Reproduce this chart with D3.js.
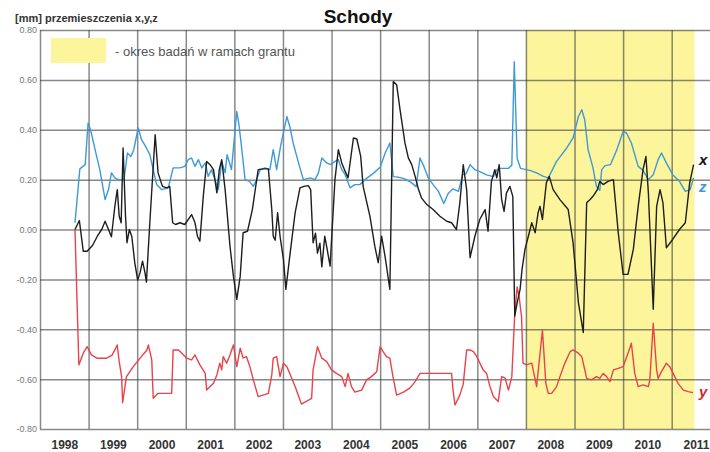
<!DOCTYPE html>
<html>
<head>
<meta charset="utf-8">
<script src="https://cdn.jsdelivr.net/npm/d3@7"></script>
<style>
body { margin: 0; background: #fff; }
svg { display: block; font-family: Arial, "Liberation Sans", sans-serif; }
</style>
</head>
<body>
<svg width="710" height="452"></svg>
<script>
// years on the time axis, value ticks [mm]
const years = [1998, 1999, 2000, 2001, 2002, 2003, 2004, 2005, 2006, 2007, 2008, 2009, 2010, 2011];
const yTicks = [-0.8, -0.6, -0.4, -0.2, 0, 0.2, 0.4, 0.6, 0.8];
const grantPeriod = [2008, 2011.47];

// [decimal year, displacement mm]
const xData = [[1998.72,0.0],[1998.81,0.036],[1998.89,-0.087],[1998.97,-0.087],[1999.08,-0.064],[1999.18,-0.027],[1999.27,0.0],[1999.34,0.033],[1999.41,0.0],[1999.47,-0.029],[1999.54,0.093],[1999.59,0.16],[1999.63,0.053],[1999.67,0.027],[1999.71,0.327],[1999.76,0.053],[1999.79,-0.053],[1999.84,0.0],[1999.89,-0.029],[1999.95,-0.133],[2000.01,-0.203],[2000.06,-0.173],[2000.11,-0.127],[2000.16,-0.173],[2000.19,-0.211],[2000.26,0.027],[2000.37,0.38],[2000.43,0.227],[2000.52,0.173],[2000.61,0.167],[2000.67,0.173],[2000.73,0.027],[2000.79,0.02],[2000.88,0.027],[2000.98,0.02],[2001.12,0.06],[2001.19,0.027],[2001.24,-0.027],[2001.29,-0.047],[2001.36,0.133],[2001.43,0.273],[2001.50,0.26],[2001.57,0.24],[2001.64,0.147],[2001.69,0.24],[2001.74,0.28],[2001.81,0.16],[2001.91,-0.067],[2001.98,-0.187],[2002.05,-0.28],[2002.12,-0.187],[2002.18,-0.013],[2002.27,-0.007],[2002.37,0.08],[2002.49,0.24],[2002.60,0.243],[2002.70,0.243],[2002.77,0.08],[2002.80,-0.027],[2002.84,-0.043],[2002.89,0.067],[2002.94,-0.027],[2003.01,-0.12],[2003.06,-0.24],[2003.14,-0.107],[2003.25,0.067],[2003.35,0.167],[2003.43,0.173],[2003.52,0.176],[2003.57,0.16],[2003.62,-0.053],[2003.67,-0.015],[2003.71,-0.095],[2003.76,-0.055],[2003.80,-0.15],[2003.86,-0.027],[2003.91,-0.08],[2003.97,-0.147],[2004.07,0.2],[2004.14,0.32],[2004.21,0.267],[2004.28,0.233],[2004.34,0.207],[2004.45,0.367],[2004.52,0.363],[2004.60,0.293],[2004.65,0.173],[2004.79,0.053],[2004.89,-0.067],[2004.96,-0.133],[2005.03,-0.027],[2005.10,-0.107],[2005.20,-0.24],[2005.27,0.593],[2005.34,0.58],[2005.41,0.48],[2005.51,0.347],[2005.58,0.287],[2005.65,0.26],[2005.72,0.213],[2005.79,0.16],[2005.85,0.127],[2005.96,0.10],[2006.09,0.08],[2006.23,0.053],[2006.37,0.033],[2006.47,0.027],[2006.57,0.0],[2006.64,0.107],[2006.71,0.26],[2006.78,0.16],[2006.85,-0.113],[2006.95,-0.027],[2007.05,0.04],[2007.16,0.08],[2007.22,-0.007],[2007.29,0.193],[2007.36,0.24],[2007.40,0.207],[2007.45,0.26],[2007.50,0.12],[2007.55,0.073],[2007.60,0.147],[2007.67,0.173],[2007.73,0.133],[2007.77,-0.347],[2007.82,-0.293],[2007.88,-0.24],[2007.92,-0.16],[2007.98,-0.08],[2008.05,-0.027],[2008.12,0.027],[2008.19,-0.013],[2008.25,0.067],[2008.29,0.093],[2008.34,0.04],[2008.42,0.187],[2008.48,0.213],[2008.56,0.16],[2008.70,0.12],[2008.87,0.08],[2008.97,-0.053],[2009.08,-0.293],[2009.18,-0.413],[2009.25,0.107],[2009.32,0.12],[2009.38,0.133],[2009.47,0.16],[2009.52,0.193],[2009.59,0.18],[2009.69,0.193],[2009.80,0.2],[2009.90,-0.013],[2010.00,-0.18],[2010.10,-0.18],[2010.21,-0.08],[2010.31,0.093],[2010.41,0.24],[2010.47,0.293],[2010.52,0.147],[2010.62,-0.32],[2010.69,0.093],[2010.76,0.16],[2010.82,0.107],[2010.89,-0.073],[2011.02,-0.04],[2011.16,0.0],[2011.28,0.027],[2011.37,0.187],[2011.45,0.26]];

const yData = [[1998.72,0.0],[1998.80,-0.543],[1998.89,-0.496],[1998.97,-0.47],[1999.06,-0.503],[1999.17,-0.516],[1999.37,-0.516],[1999.48,-0.505],[1999.54,-0.483],[1999.59,-0.463],[1999.63,-0.53],[1999.68,-0.59],[1999.70,-0.694],[1999.78,-0.59],[1999.92,-0.55],[2000.06,-0.516],[2000.20,-0.483],[2000.23,-0.463],[2000.30,-0.523],[2000.33,-0.677],[2000.43,-0.657],[2000.71,-0.657],[2000.74,-0.483],[2000.85,-0.483],[2000.92,-0.496],[2001.02,-0.516],[2001.12,-0.523],[2001.19,-0.503],[2001.29,-0.543],[2001.40,-0.577],[2001.43,-0.644],[2001.57,-0.617],[2001.64,-0.583],[2001.70,-0.536],[2001.74,-0.563],[2001.77,-0.51],[2001.84,-0.536],[2001.91,-0.503],[2001.98,-0.463],[2002.05,-0.55],[2002.12,-0.476],[2002.18,-0.515],[2002.25,-0.51],[2002.32,-0.55],[2002.39,-0.603],[2002.49,-0.67],[2002.70,-0.657],[2002.77,-0.583],[2002.80,-0.516],[2002.87,-0.51],[2002.94,-0.59],[2003.01,-0.536],[2003.08,-0.55],[2003.14,-0.577],[2003.25,-0.63],[2003.38,-0.70],[2003.59,-0.677],[2003.62,-0.563],[2003.71,-0.47],[2003.80,-0.516],[2003.90,-0.53],[2004.00,-0.563],[2004.10,-0.577],[2004.21,-0.59],[2004.28,-0.63],[2004.34,-0.577],[2004.41,-0.63],[2004.48,-0.652],[2004.62,-0.644],[2004.72,-0.603],[2004.82,-0.59],[2004.93,-0.57],[2005.00,-0.47],[2005.06,-0.49],[2005.13,-0.51],[2005.20,-0.516],[2005.27,-0.597],[2005.34,-0.664],[2005.48,-0.652],[2005.61,-0.636],[2005.72,-0.61],[2005.82,-0.577],[2006.02,-0.577],[2006.30,-0.577],[2006.47,-0.577],[2006.50,-0.644],[2006.54,-0.704],[2006.64,-0.664],[2006.71,-0.62],[2006.78,-0.483],[2006.85,-0.483],[2006.92,-0.49],[2006.99,-0.51],[2007.05,-0.535],[2007.12,-0.563],[2007.19,-0.577],[2007.26,-0.63],[2007.33,-0.67],[2007.43,-0.69],[2007.50,-0.59],[2007.57,-0.595],[2007.64,-0.644],[2007.71,-0.59],[2007.77,-0.336],[2007.82,-0.23],[2007.86,-0.27],[2007.91,-0.35],[2007.94,-0.536],[2008.01,-0.543],[2008.12,-0.536],[2008.22,-0.63],[2008.34,-0.403],[2008.41,-0.617],[2008.46,-0.657],[2008.53,-0.657],[2008.63,-0.63],[2008.70,-0.59],[2008.80,-0.536],[2008.91,-0.49],[2008.97,-0.483],[2009.08,-0.496],[2009.15,-0.51],[2009.25,-0.597],[2009.35,-0.603],[2009.45,-0.59],[2009.52,-0.597],[2009.59,-0.577],[2009.66,-0.59],[2009.73,-0.61],[2009.80,-0.563],[2009.90,-0.557],[2010.00,-0.55],[2010.10,-0.496],[2010.17,-0.456],[2010.24,-0.577],[2010.31,-0.63],[2010.41,-0.623],[2010.52,-0.63],[2010.55,-0.603],[2010.62,-0.376],[2010.69,-0.563],[2010.72,-0.597],[2010.79,-0.57],[2010.89,-0.536],[2010.96,-0.55],[2011.03,-0.577],[2011.13,-0.617],[2011.24,-0.644],[2011.34,-0.65],[2011.44,-0.654]];

const zData = [[1998.72,0.027],[1998.82,0.243],[1998.93,0.26],[1998.99,0.427],[1999.04,0.40],[1999.11,0.34],[1999.23,0.24],[1999.34,0.12],[1999.41,0.16],[1999.47,0.227],[1999.54,0.207],[1999.65,0.197],[1999.73,0.203],[1999.80,0.307],[1999.87,0.293],[1999.93,0.32],[2000.02,0.407],[2000.09,0.36],[2000.19,0.327],[2000.26,0.30],[2000.33,0.24],[2000.40,0.18],[2000.50,0.16],[2000.64,0.167],[2000.74,0.247],[2000.88,0.247],[2000.98,0.253],[2001.05,0.28],[2001.12,0.287],[2001.19,0.253],[2001.26,0.28],[2001.33,0.247],[2001.40,0.267],[2001.46,0.213],[2001.53,0.24],[2001.60,0.20],[2001.67,0.16],[2001.74,0.273],[2001.81,0.227],[2001.85,0.30],[2001.94,0.24],[2002.05,0.473],[2002.09,0.427],[2002.15,0.327],[2002.22,0.20],[2002.31,0.193],[2002.39,0.173],[2002.46,0.20],[2002.53,0.24],[2002.63,0.247],[2002.73,0.24],[2002.80,0.32],[2002.87,0.24],[2002.95,0.333],[2003.08,0.453],[2003.14,0.413],[2003.21,0.347],[2003.32,0.267],[2003.42,0.20],[2003.56,0.207],[2003.66,0.20],[2003.73,0.227],[2003.80,0.287],[2003.90,0.267],[2003.98,0.26],[2004.07,0.273],[2004.14,0.28],[2004.21,0.24],[2004.28,0.22],[2004.38,0.167],[2004.48,0.18],[2004.58,0.18],[2004.72,0.205],[2004.86,0.225],[2005.00,0.25],[2005.10,0.305],[2005.20,0.347],[2005.27,0.212],[2005.37,0.21],[2005.51,0.203],[2005.65,0.187],[2005.74,0.171],[2005.82,0.287],[2005.90,0.253],[2005.99,0.207],[2006.09,0.18],[2006.20,0.153],[2006.31,0.104],[2006.40,0.144],[2006.50,0.163],[2006.61,0.153],[2006.70,0.22],[2006.77,0.224],[2006.85,0.26],[2006.95,0.24],[2007.05,0.232],[2007.19,0.219],[2007.33,0.212],[2007.40,0.239],[2007.47,0.245],[2007.64,0.245],[2007.71,0.259],[2007.76,0.673],[2007.82,0.285],[2007.89,0.245],[2008.08,0.237],[2008.22,0.227],[2008.36,0.213],[2008.46,0.207],[2008.63,0.273],[2008.84,0.327],[2008.97,0.367],[2009.08,0.453],[2009.15,0.48],[2009.21,0.44],[2009.28,0.32],[2009.38,0.247],[2009.45,0.173],[2009.52,0.157],[2009.56,0.24],[2009.63,0.256],[2009.74,0.26],[2009.87,0.32],[2010.00,0.393],[2010.07,0.387],[2010.17,0.347],[2010.31,0.253],[2010.41,0.237],[2010.52,0.20],[2010.62,0.22],[2010.72,0.28],[2010.79,0.307],[2010.89,0.267],[2011.02,0.22],[2011.16,0.193],[2011.28,0.153],[2011.38,0.16],[2011.45,0.207]];

const svg = d3.select("svg");

const x = d3.scaleLinear().domain([1998, 2012]).range([40, 720.3]);
const y = d3.scaleLinear().domain([-0.8, 0.8]).range([429, 30]);

// grant period band
svg.append("rect")
    .attr("x", x(grantPeriod[0]))
    .attr("y", y(0.8))
    .attr("width", x(grantPeriod[1]) - x(grantPeriod[0]))
    .attr("height", y(-0.8) - y(0.8))
    .attr("fill", "#fdf59c");

// horizontal grid + value labels
const gy = svg.append("g")
    .attr("transform", "translate(40,0)")
    .call(d3.axisLeft(y).tickValues(yTicks).tickSize(-690).tickPadding(3)
        .tickFormat(d => d.toFixed(2)));
gy.select(".domain").remove();
gy.selectAll("line").attr("stroke", "#3a3a3a").attr("stroke-opacity", 0.6).attr("stroke-width", 1.5);
gy.selectAll("text").attr("fill", "#777").attr("font-size", 9);

// vertical grid
const gx = svg.append("g")
    .attr("transform", `translate(0,${y(-0.8)})`)
    .call(d3.axisBottom(x).tickValues(years).tickSize(-(y(-0.8) - y(0.8))).tickFormat(""));
gx.select(".domain").remove();
gx.selectAll("line").attr("stroke", "#3a3a3a").attr("stroke-opacity", 0.6).attr("stroke-width", 1.5);

// year labels centred in each year
const gl = svg.append("g")
    .attr("transform", `translate(0,${y(-0.8)})`)
    .call(d3.axisBottom(x).tickValues(years.map(d => d + 0.5)).tickSize(0).tickPadding(11)
        .tickFormat(d => Math.floor(d)));
gl.select(".domain").remove();
gl.selectAll("text").attr("fill", "#333").attr("font-size", 12).attr("font-weight", "bold");

const line = d3.line().x(d => x(d[0])).y(d => y(d[1]));

svg.append("path").datum(zData)
    .attr("fill", "none").attr("stroke", "#3d9ad8").attr("stroke-width", 1.4)
    .attr("stroke-linejoin", "round").attr("d", line);

svg.append("path").datum(yData)
    .attr("fill", "none").attr("stroke", "#e8434b").attr("stroke-width", 1.4)
    .attr("stroke-linejoin", "round").attr("d", line);

svg.append("path").datum(xData)
    .attr("fill", "none").attr("stroke", "#1e1e1e").attr("stroke-width", 1.4)
    .attr("stroke-linejoin", "round").attr("d", line);

// series labels
const seriesLabels = [
    { t: "x", v: 0.28, c: "#111" },
    { t: "z", v: 0.17, c: "#3d9ad8" },
    { t: "y", v: -0.65, c: "#e0202a" }
];
svg.selectAll(".slab").data(seriesLabels).enter().append("text")
    .attr("class", "slab")
    .attr("x", 699)
    .attr("y", d => y(d.v) + 5)
    .attr("fill", d => d.c)
    .attr("font-size", 15)
    .attr("font-weight", "bold")
    .attr("font-style", "italic")
    .text(d => d.t);

// titles
svg.append("text")
    .attr("x", 358).attr("y", 23)
    .attr("text-anchor", "middle")
    .attr("font-size", 19).attr("font-weight", "bold").attr("fill", "#111")
    .text("Schody");

svg.append("text")
    .attr("x", 15).attr("y", 22)
    .attr("font-size", 11).attr("font-weight", "bold").attr("fill", "#333")
    .text("[mm] przemieszczenia  x,y,z");

// legend
svg.append("rect")
    .attr("x", 51).attr("y", 38).attr("width", 55).attr("height", 25)
    .attr("fill", "#fdf59c");
svg.append("text")
    .attr("x", 115).attr("y", 56)
    .attr("font-size", 13).attr("fill", "#555")
    .text("- okres badań w ramach grantu");
</script>
</body>
</html>
